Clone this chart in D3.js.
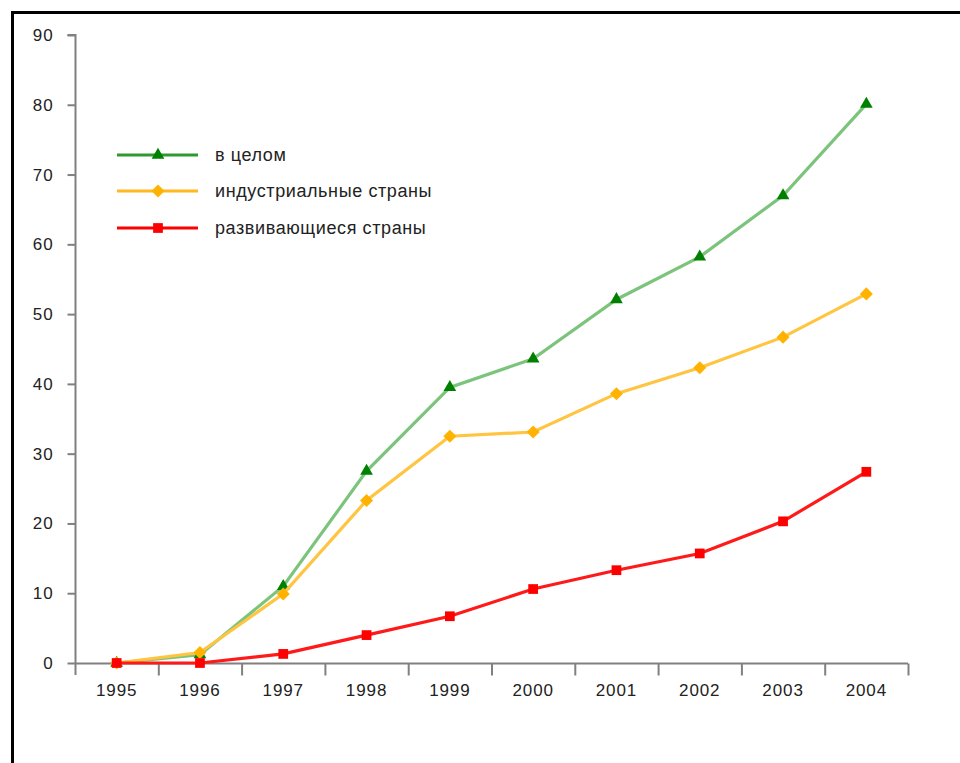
<!DOCTYPE html>
<html>
<head>
<meta charset="utf-8">
<script src="https://cdn.jsdelivr.net/npm/d3@7"></script>
<style>
  body { margin: 0; background: #fff; }
  svg { display: block; }
  .tick text { font-family: "Liberation Sans", Arial, sans-serif; font-size: 17px; letter-spacing: 0.9px; fill: #222; }
  .legend text { font-family: "Liberation Sans", Arial, sans-serif; font-size: 18px; letter-spacing: 0.6px; fill: #222; }
</style>
</head>
<body>
<svg width="960" height="763"></svg>
<script>
// data
var years = ["1995", "1996", "1997", "1998", "1999", "2000", "2001", "2002", "2003", "2004"];
var total = [0, 1.2, 11, 27.5, 39.5, 43.6, 52.1, 58.2, 67, 80.1];
var industrial = [0, 1.5, 9.9, 23.3, 32.5, 33.1, 38.6, 42.3, 46.7, 52.9];
var developing = [0, 0, 1.3, 4, 6.7, 10.6, 13.3, 15.7, 20.3, 27.4];
var seriesNames = ["в целом", "индустриальные страны", "развивающиеся страны"];
var yTicks = [0, 10, 20, 30, 40, 50, 60, 70, 80, 90];

const svg = d3.select("svg");
const margin = {top: 35, left: 75, right: 52, bottom: 100};
const width = +svg.attr("width");
const height = +svg.attr("height");

// outer frame, cut off at right and bottom like the original
svg.append("rect")
    .attr("x", 12.5).attr("y", 12.5)
    .attr("width", 980).attr("height", 800)
    .attr("fill", "none").attr("stroke", "#000").attr("stroke-width", 3);

const x = d3.scaleBand().domain(years).range([margin.left, width - margin.right]);
const y = d3.scaleLinear().domain([0, 90]).range([height - margin.bottom, margin.top]);
const cx = d => x(d) + x.bandwidth() / 2;

// y axis
const yAxis = svg.append("g")
    .attr("transform", "translate(" + (margin.left + 0.5) + ",0)")
    .call(d3.axisLeft(y).tickValues(yTicks).tickSize(8).tickPadding(14));
yAxis.select(".domain").attr("stroke", "#808080").attr("stroke-width", 2)
    .attr("d", "M-8," + y(90) + "H0V" + (y(0) + 12));
yAxis.selectAll(".tick line").attr("stroke", "#808080").attr("stroke-width", 2);

// x axis: labels centred in bands, ticks on band edges
const xAxis = svg.append("g")
    .attr("transform", "translate(0," + (y(0) + 0.5) + ")")
    .call(d3.axisBottom(x).tickSize(0).tickPadding(20));
xAxis.select(".domain").attr("stroke", "#808080").attr("stroke-width", 2)
    .attr("d", "M" + margin.left + ",0H" + (width - margin.right));
xAxis.selectAll(".tick text").attr("dy", "0.71em");
const edges = years.map(d => x(d)).concat([width - margin.right]);
xAxis.selectAll(".edge")
    .data(edges.slice(1))
    .enter()
    .append("line")
    .attr("class", "edge")
    .attr("x1", d => d + 0.5).attr("x2", d => d + 0.5)
    .attr("y1", 0).attr("y2", 12)
    .attr("stroke", "#808080").attr("stroke-width", 2);

const series = [
    {name: seriesNames[0], values: total, line: "#7cc47c", legendLine: "#2e9a2e", marker: "#008000", shape: d3.symbolTriangle, size: 70, rot: 0},
    {name: seriesNames[1], values: industrial, line: "#ffc440", legendLine: "#ffb820", marker: "#ffb300", shape: d3.symbolSquare, size: 85, rot: 45},
    {name: seriesNames[2], values: developing, line: "#ff1a1a", legendLine: "#ff0000", marker: "#ff0000", shape: d3.symbolSquare, size: 95, rot: 0}
];

const line = d3.line()
    .x((d, i) => cx(years[i]))
    .y(d => y(d));

series.forEach(function(s) {
    svg.append("path")
        .datum(s.values)
        .attr("d", line)
        .attr("fill", "none")
        .attr("stroke", s.line)
        .attr("stroke-width", 3.2);
    svg.selectAll(null)
        .data(s.values)
        .enter()
        .append("path")
        .attr("d", d3.symbol().type(s.shape).size(s.size))
        .attr("transform", (d, i) => "translate(" + cx(years[i]) + "," + y(d) + ") rotate(" + s.rot + ")")
        .attr("fill", s.marker);
});

// legend
const legend = svg.append("g").attr("class", "legend");
const legendY = [155, 191, 228];
series.forEach(function(s, i) {
    const g = legend.append("g").attr("transform", "translate(0," + legendY[i] + ")");
    g.append("line")
        .attr("x1", 117).attr("x2", 198).attr("y1", 0).attr("y2", 0)
        .attr("stroke", s.legendLine).attr("stroke-width", 3);
    g.append("path")
        .attr("d", d3.symbol().type(s.shape).size(s.size))
        .attr("transform", "translate(158,0) rotate(" + s.rot + ")")
        .attr("fill", s.marker);
    g.append("text")
        .attr("x", 215).attr("y", 0).attr("dy", "0.35em")
        .text(s.name);
});
</script>
</body>
</html>
